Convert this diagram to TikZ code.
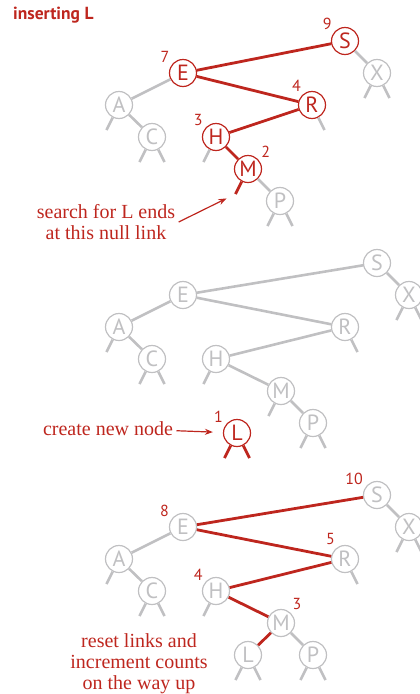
\documentclass[tikz,border=0pt]{standalone}
\usepackage{fontspec}
\setmainfont{Liberation Serif}
\newfontfamily\treefont{PT Sans}
\usetikzlibrary{arrows.meta,calc}

\definecolor{bstred}{RGB}{190,38,30}
\definecolor{bstgray}{RGB}{192,192,194}

% null links: short stubs below a node
\newcommand{\nullleft}[2][glink]{\coordinate (#2l) at ($(#2)+(-12.5,25)$); \draw[#1] (#2) -- (#2l);}
\newcommand{\nullright}[2][glink]{\coordinate (#2r) at ($(#2)+(12.5,25)$); \draw[#1] (#2) -- (#2r);}

\begin{document}
\begin{tikzpicture}[
  x=1pt, y=-1pt,
  key/.style={circle, draw=bstgray, line width=1.2pt, fill=white, minimum size=27pt, inner sep=0pt,
    text=bstgray, font=\treefont\fontsize{22}{22}\selectfont},
  hotkey/.style={key, draw=bstred, text=bstred},
  glink/.style={draw=bstgray, line width=2.6pt},
  rlink/.style={draw=bstred, line width=2.8pt},
  cnt/.style={text=bstred, font=\treefont\fontsize{16}{16}\selectfont, inner sep=0pt, label distance=3pt},
  note/.style={text=bstred, align=center, font=\fontsize{20}{21}\selectfont},
  title/.style={text=bstred, font=\treefont\bfseries\fontsize{17.5}{17.5}\selectfont, inner sep=0pt},
  pointer/.style={draw=bstred, line width=1.2pt, -{Stealth[length=8pt,width=6pt]}, shorten >=10pt}
]
  \useasboundingbox (0,0) rectangle (420,694);

  \node[title, anchor=base west] (ttl) at (13,19) {inserting L};

  % search path
  \node[hotkey, label={[cnt]140:9}] (S1) at (345,41) {S};
  \node[key] (X1) at (377,73) {X};
  \node[hotkey, label={[cnt]142:7}] (E1) at (183,73) {E};
  \node[key] (A1) at (119,105) {A};
  \node[hotkey, label={[cnt]130:4}] (R1) at (312,105) {R};
  \node[key] (C1) at (152,137) {C};
  \node[hotkey, label={[cnt]140:3}] (H1) at (216,137) {H};
  \node[hotkey, label={[cnt]40:2}] (M1) at (248,169) {M};
  \node[key] (P1) at (280,201) {P};

  \draw[rlink] (S1) -- (E1);
  \draw[rlink] (E1) -- (R1);
  \draw[rlink] (R1) -- (H1);
  \draw[rlink] (H1) -- (M1);
  \draw[glink] (S1) -- (X1);
  \draw[glink] (E1) -- (A1);
  \draw[glink] (A1) -- (C1);
  \draw[glink] (M1) -- (P1);
  \nullleft{A1} \nullleft{C1} \nullright{C1} \nullleft{H1} \nullleft[rlink]{M1}
  \nullleft{P1} \nullright{P1} \nullright{R1} \nullleft{X1} \nullright{X1}

  \node[note] (search) at (106,222) {search for L ends\\at this null link};
  \draw[pointer] (search.east) -- (M1l);

  % new node
  \node[key] (S2) at (377,263) {S};
  \node[key] (X2) at (409,295) {X};
  \node[key] (E2) at (183,295) {E};
  \node[key] (A2) at (119,327) {A};
  \node[key] (R2) at (345,327) {R};
  \node[key] (C2) at (152,359) {C};
  \node[key] (H2) at (216,359) {H};
  \node[key] (M2) at (281,391) {M};
  \node[key] (P2) at (313,423) {P};
  \node[hotkey, label={[cnt]145:1}] (L2) at (237,433) {L};

  \draw[glink] (S2) -- (E2);
  \draw[glink] (S2) -- (X2);
  \draw[glink] (E2) -- (A2);
  \draw[glink] (E2) -- (R2);
  \draw[glink] (A2) -- (C2);
  \draw[glink] (R2) -- (H2);
  \draw[glink] (H2) -- (M2);
  \draw[glink] (M2) -- (P2);
  \nullleft{A2} \nullleft{C2} \nullright{C2} \nullleft{H2} \nullleft{M2}
  \nullleft{P2} \nullright{P2} \nullright{R2} \nullleft{X2} \nullright{X2}
  \nullleft[rlink]{L2} \nullright[rlink]{L2}

  \node[note, anchor=base] (create) at (108,435) {create new node};
  \draw[pointer] (create) -- (L2);

  % way back up
  \node[key, label={[cnt]145:10}] (S3) at (377,495) {S};
  \node[key] (X3) at (409,527) {X};
  \node[key, label={[cnt]144:8}] (E3) at (183,527) {E};
  \node[key] (A3) at (119,559) {A};
  \node[key, label={[cnt]126:5}] (R3) at (345,559) {R};
  \node[key] (C3) at (152,591) {C};
  \node[key, label={[cnt]141:4}] (H3) at (216,591) {H};
  \node[key, label={[cnt]48:3}] (M3) at (281,623) {M};
  \node[key] (L3) at (248,655) {L};
  \node[key] (P3) at (313,655) {P};

  \draw[rlink] (S3) -- (E3);
  \draw[rlink] (E3) -- (R3);
  \draw[rlink] (R3) -- (H3);
  \draw[rlink] (H3) -- (M3);
  \draw[rlink] (M3) -- (L3);
  \draw[glink] (S3) -- (X3);
  \draw[glink] (E3) -- (A3);
  \draw[glink] (A3) -- (C3);
  \draw[glink] (M3) -- (P3);
  \nullleft{A3} \nullleft{C3} \nullright{C3} \nullleft{H3} \nullleft{L3} \nullright{L3}
  \nullleft{P3} \nullright{P3} \nullright{R3} \nullleft{X3} \nullright{X3}

  \node[note] (reset) at (139,664) {reset links and\\increment counts\\on the way up};
\end{tikzpicture}
\end{document}
